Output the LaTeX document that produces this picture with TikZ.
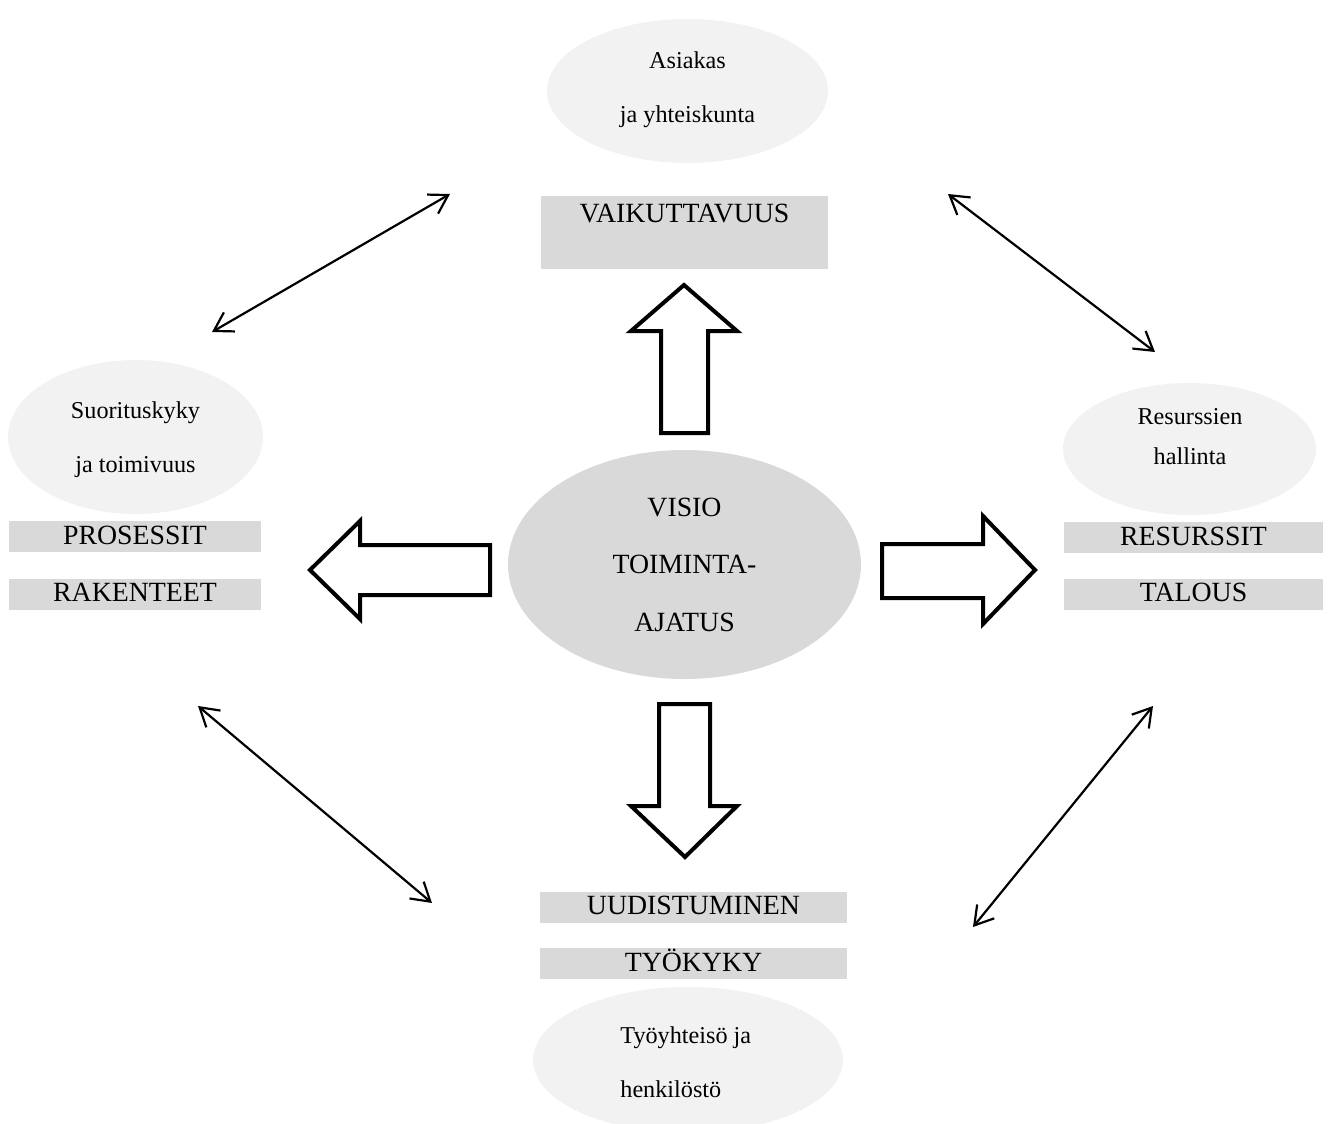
\documentclass[tikz,border=0pt]{standalone}
\usepackage{fontspec}
\setmainfont{Liberation Serif}
\usetikzlibrary{shapes.geometric,arrows.meta}
\begin{document}
\begin{tikzpicture}[x=.5pt,y=-.5pt,
  kupla/.style={ellipse,fill=black!5,inner sep=0pt},
  teksti/.style={inner sep=0pt,align=center,font=\fontsize{12.1}{27}\selectfont},
  laatikko/.style={fill=black!15,inner sep=0pt,minimum height=15.5pt,
    text height=11.5pt,text depth=4pt,font=\fontsize{13.9}{16}\selectfont},
  nuoli/.style={line width=2pt,line join=miter,fill=white},
  kaksi/.style={line width=1.1pt,<->,>={Straight Barb[length=9pt,width=11pt]}}]
\useasboundingbox (0,0) rectangle (1330,1124);
% Ylhaalla
\node[kupla,minimum width=140.5pt,minimum height=72pt] (asiakas) at (687.5,91) {};
\node[teksti] (asiakasteksti) at (687.5,89.5) {Asiakas\\ja yhteiskunta};
\node[laatikko,minimum width=143.5pt,text height=13pt,text depth=23.5pt]
  (vaikuttavuus) at (684.5,232.5) {VAIKUTTAVUUS};
% Vasemmalla
\node[kupla,minimum width=127.5pt,minimum height=77pt] (suorituskyky) at (135.5,437) {};
\node[teksti] (suorituskykyteksti) at (135.5,439.5) {Suorituskyky\\ja toimivuus};
\node[laatikko,minimum width=126pt] (prosessit) at (135,536.5) {PROSESSIT};
\node[laatikko,minimum width=126pt] (rakenteet) at (135,594) {RAKENTEET};
% Oikealla
\node[kupla,minimum width=126.5pt,minimum height=66pt] (resurssien) at (1189.5,449) {};
\node[teksti,font=\fontsize{12.1}{20}\selectfont] (resurssienteksti) at (1190,437)
  {Resurssien\\hallinta};
\node[laatikko,minimum width=129.5pt] (resurssit) at (1193.5,537.5) {RESURSSIT};
\node[laatikko,minimum width=129.5pt] (talous) at (1193.5,594) {TALOUS};
% Alhaalla
\node[laatikko,minimum width=153.5pt] (uudistuminen) at (693.5,907) {UUDISTUMINEN};
\node[laatikko,minimum width=153.5pt] (tyokyky) at (693.5,963.5) {TYÖKYKY};
\node[kupla,minimum width=155pt,minimum height=73pt] (tyoyhteiso) at (688,1060) {};
\node[teksti,align=left,anchor=west] (tyoyhteisoteksti) at (620,1062)
  {Työyhteisö ja\\henkilöstö};
% Keskella
\node[ellipse,fill=black!15,inner sep=0pt,minimum width=176.5pt,minimum height=114.5pt,
  align=center,font=\fontsize{13.9}{28.75}\selectfont] (visio) at (684.5,564.5)
  {VISIO\\TOIMINTA-\\AJATUS};
% Nuolet
\draw[nuoli] (684,285) -- (737,331) -- (708,331) -- (708,433) -- (661,433)
  -- (661,331) -- (631,331) -- cycle;
\draw[nuoli] (310,570) -- (360,521) -- (360,545) -- (490,545) -- (490,595)
  -- (360,595) -- (360,619) -- cycle;
\draw[nuoli] (1035,570) -- (983,516) -- (983,544) -- (882,544) -- (882,598)
  -- (983,598) -- (983,624) -- cycle;
\draw[nuoli] (685,857) -- (737,806) -- (710,806) -- (710,704) -- (659,704)
  -- (659,806) -- (631,806) -- cycle;
\coordinate (vy) at (212,332);
\coordinate (yv) at (450,194);
\coordinate (yo) at (948,194);
\coordinate (oy) at (1155,352);
\coordinate (va) at (198,706);
\coordinate (av) at (432,903);
\coordinate (oa) at (1153,706);
\coordinate (ao) at (973,927);
\draw[kaksi] (vy) -- (yv);
\draw[kaksi] (yo) -- (oy);
\draw[kaksi] (va) -- (av);
\draw[kaksi] (oa) -- (ao);
\end{tikzpicture}
\end{document}
